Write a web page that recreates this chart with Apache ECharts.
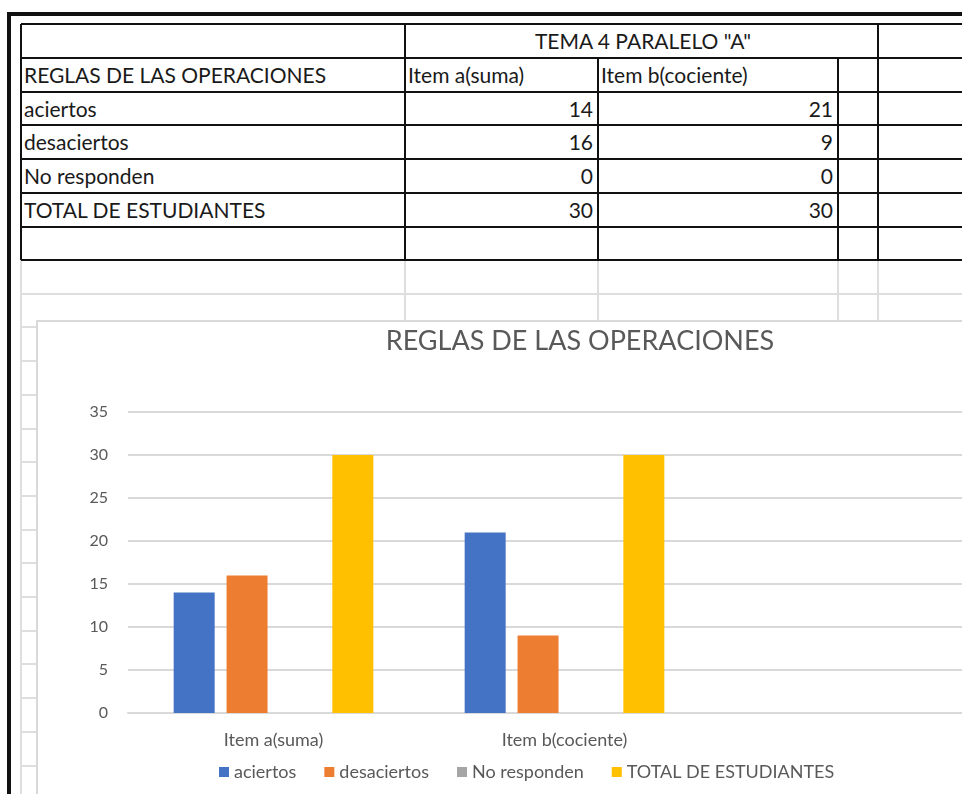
<!DOCTYPE html>
<html>
<head>
<meta charset="utf-8">
<script src="https://cdn.jsdelivr.net/npm/echarts@6/dist/echarts.min.js"></script>
<style>
html, body {
  margin: 0;
  padding: 0;
  width: 962px;
  height: 794px;
  overflow: hidden;
  background: #fff;
  font-family: Lato, 'Liberation Sans', sans-serif;
}
.ln { position: absolute; background: #111; }
.gl { position: absolute; background: #dedede; }
.cell {
  position: absolute;
  font-size: 21px;
  color: #1a1a1a;
  white-space: nowrap;
  overflow: hidden;
  box-sizing: border-box;
}
#chartBox {
  position: absolute;
  left: 36px;
  top: 320px;
  width: 940px;
  height: 480px;
  border-left: 2px solid #d9d9d9;
  border-top: 2px solid #d9d9d9;
  background: #fff;
}
#chart {
  position: absolute;
  left: 0;
  top: 0;
  width: 924px;
  height: 472px;
}
</style>
</head>
<body>
<div id="sheet"></div>
<div id="chartBox"><div id="chart"></div></div>
<script>
// datos de la hoja
const tableTitle = 'TEMA 4 PARALELO "A"'
const chartTitle = 'REGLAS DE LAS OPERACIONES'
const categories = ['Item a(suma)', 'Item b(cociente)', '']
const seriesNames = ['aciertos', 'desaciertos', 'No responden', 'TOTAL DE ESTUDIANTES']
const aciertos = [14, 21, null]
const desaciertos = [16, 9, null]
const noResponden = [0, 0, null]
const totalEstudiantes = [30, 30, null]
const colors = ['#4472C4', '#ED7D31', '#A5A5A5', '#FFC000']

const seriesData = [aciertos, desaciertos, noResponden, totalEstudiantes]

// tabla (celdas de excel)
const cols = [21, 405, 598, 838, 878, 1000]
const rows = [24, 58, 92, 125, 159, 193, 227, 260]
const rowH = 33.7
const sheet = document.getElementById('sheet')

function box(cls, x, y, w, h) {
  let d = document.createElement('div')
  d.className = cls
  d.style.left = x + 'px'
  d.style.top = y + 'px'
  d.style.width = w + 'px'
  d.style.height = h + 'px'
  sheet.appendChild(d)
  return d
}

function cell(text, x1, x2, r, align) {
  let d = box('cell', x1, rows[r], x2 - x1, rows[r + 1] - rows[r])
  d.style.lineHeight = (rows[r + 1] - rows[r]) + 'px'
  d.style.textAlign = align
  d.style.padding = align === 'right' ? '0 5px 0 0' : '0 0 0 3px'
  d.textContent = text
}

// lineas grises de la hoja
for (let k = 1; k < 17; k++) {
  let y = rows[7] + k * rowH
  if (y < 320) box('gl', 21, y - 1, 941, 2)
  else box('gl', 21, y - 1, 15, 2)
}
for (let c = 0; c < 5; c++) {
  box('gl', cols[c] - 1, rows[7], 2, 320 - rows[7])
}
box('gl', 20, 320, 2, 474)

// bordes negros
for (let r = 0; r < rows.length; r++) {
  box('ln', 21, rows[r] - 1, 941, 2)
}
box('ln', 20, rows[0], 2, rows[7] - rows[0])
box('ln', cols[1] - 1, rows[0], 2, rows[7] - rows[0])
box('ln', cols[2] - 1, rows[1], 2, rows[7] - rows[1])
box('ln', cols[3] - 1, rows[1], 2, rows[7] - rows[1])
box('ln', cols[4] - 1, rows[0], 2, rows[7] - rows[0])
// marco exterior
box('ln', 7, 12, 955, 4)
box('ln', 7, 12, 4, 782)

cell(tableTitle, cols[1], cols[4], 0, 'center')
cell(chartTitle, cols[0], cols[1], 1, 'left')
cell(categories[0], cols[1], cols[2], 1, 'left')
cell(categories[1], cols[2], cols[3], 1, 'left')
for (let i = 0; i < seriesNames.length; i++) {
  cell(seriesNames[i], cols[0], cols[1], i + 2, 'left')
  cell(String(seriesData[i][0]), cols[1], cols[2], i + 2, 'right')
  cell(String(seriesData[i][1]), cols[2], cols[3], i + 2, 'right')
}

// grafico
let labelStyle = {
  color: '#595959',
  fontFamily: 'Lato',
  fontSize: 16
}
let option = {
  animation: false,
  color: colors,
  title: {
    text: chartTitle,
    left: 542,
    top: 6,
    padding: 0,
    textAlign: 'center',
    textStyle: {
      fontFamily: 'Lato',
      fontSize: 27,
      fontWeight: 'normal',
      color: '#595959'
    }
  },
  legend: {
    data: seriesNames,
    left: 181,
    top: 441,
    padding: 0,
    icon: 'rect',
    itemWidth: 10,
    itemHeight: 10,
    itemGap: 28,
    textStyle: {
      color: '#595959',
      fontFamily: 'Lato',
      fontSize: 18
    }
  },
  grid: {
    left: 90,
    top: 90,
    width: 873,
    height: 301,
    outerBoundsMode: 'none',
    containLabel: false
  },
  xAxis: {
    type: 'category',
    data: categories,
    axisLine: {lineStyle: {color: '#d9d9d9', width: 2}},
    axisTick: {show: false},
    axisLabel: Object.assign({margin: 18}, labelStyle, {fontSize: 18})
  },
  yAxis: {
    type: 'value',
    min: 0,
    max: 35,
    interval: 5,
    axisLine: {show: false},
    axisTick: {show: false},
    axisLabel: Object.assign({margin: 20}, labelStyle),
    splitLine: {lineStyle: {color: '#d9d9d9', width: 2}}
  },
  series: seriesNames.map(function(name, i) {
    return {
      name: name,
      type: 'bar',
      data: seriesData[i],
      barWidth: 41,
      barGap: '29%'
    }
  })
}
let myChart = echarts.init(document.getElementById('chart'))
myChart.setOption(option)
</script>
</body>
</html>
